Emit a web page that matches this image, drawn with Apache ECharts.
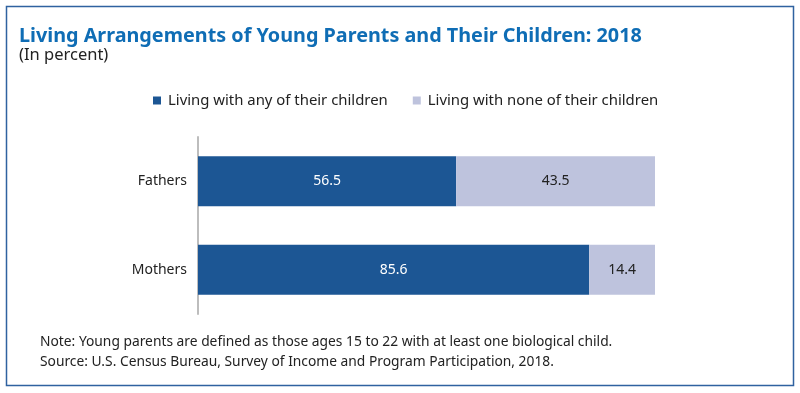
<!DOCTYPE html>
<html><head><meta charset="utf-8">
<script src="https://cdn.jsdelivr.net/npm/echarts@6/dist/echarts.min.js"></script>
<style>html,body{margin:0;padding:0;background:#fff}#c{width:800px;height:393px}</style>
</head><body><div id="c"></div>
<script>
const categories = ['Fathers', 'Mothers'];
const withAny = [56.5, 85.6];
const withNone = [43.5, 14.4];
const seriesNames = ['Living with any of their children', 'Living with none of their children'];

const FONT = 'Noto Sans';
const chart = echarts.init(document.getElementById('c'));
chart.setOption({
  animation: false,
  textStyle: { fontFamily: FONT },
  title: [
    { text: 'Living Arrangements of Young Parents and Their Children: 2018', left: 19, top: 26, padding: 0,
      textStyle: { fontFamily: FONT, fontSize: 19.8, fontWeight: 'bold', color: '#0f6db5' } },
    { text: '(In percent)', left: 19, top: 47, padding: 0,
      textStyle: { fontFamily: FONT, fontSize: 16.5, fontWeight: 'normal', color: '#222' } },
    { text: 'Note: Young parents are defined as those ages 15 to 22 with at least one biological child.\nSource: U.S. Census Bureau, Survey of Income and Program Participation, 2018.',
      left: 40, top: 332, padding: 0,
      textStyle: { fontFamily: FONT, fontSize: 13.8, fontWeight: 'normal', color: '#222', lineHeight: 20 } }
  ],
  legend: {
    top: 88, left: 148, itemWidth: 8, itemHeight: 8, itemGap: 25,
    icon: 'rect',
    textStyle: { fontFamily: FONT, fontSize: 14.9, color: '#222', padding: [0, 0, 0, 2] },
    data: seriesNames
  },
  grid: { left: 198, right: 145, top: 137, bottom: 79 },
  xAxis: { type: 'value', min: 0, max: 100, show: false },
  yAxis: {
    type: 'category', data: categories, inverse: true,
    axisLine: { show: true, lineStyle: { color: '#bdbdbd', width: 2 } },
    axisTick: { show: false },
    axisLabel: { fontFamily: FONT, fontSize: 14, color: '#222', margin: 11 }
  },
  series: [
    { name: seriesNames[0], type: 'bar', stack: 'a', data: withAny, barWidth: 50,
      itemStyle: { color: '#1c5694' },
      label: { show: true, position: 'inside', color: '#fff', fontSize: 14, fontFamily: FONT } },
    { name: seriesNames[1], type: 'bar', stack: 'a', data: withNone, barWidth: 50,
      itemStyle: { color: '#bec3dd' },
      label: { show: true, position: 'inside', color: '#222', fontSize: 14, fontFamily: FONT } }
  ],
  graphic: [
    { type: 'rect', shape: { x: 6.5, y: 6.5, width: 787, height: 379 },
      style: { fill: 'none', stroke: '#2f62a0', lineWidth: 1.5 }, z: -1 }
  ]
});
</script></body></html>
